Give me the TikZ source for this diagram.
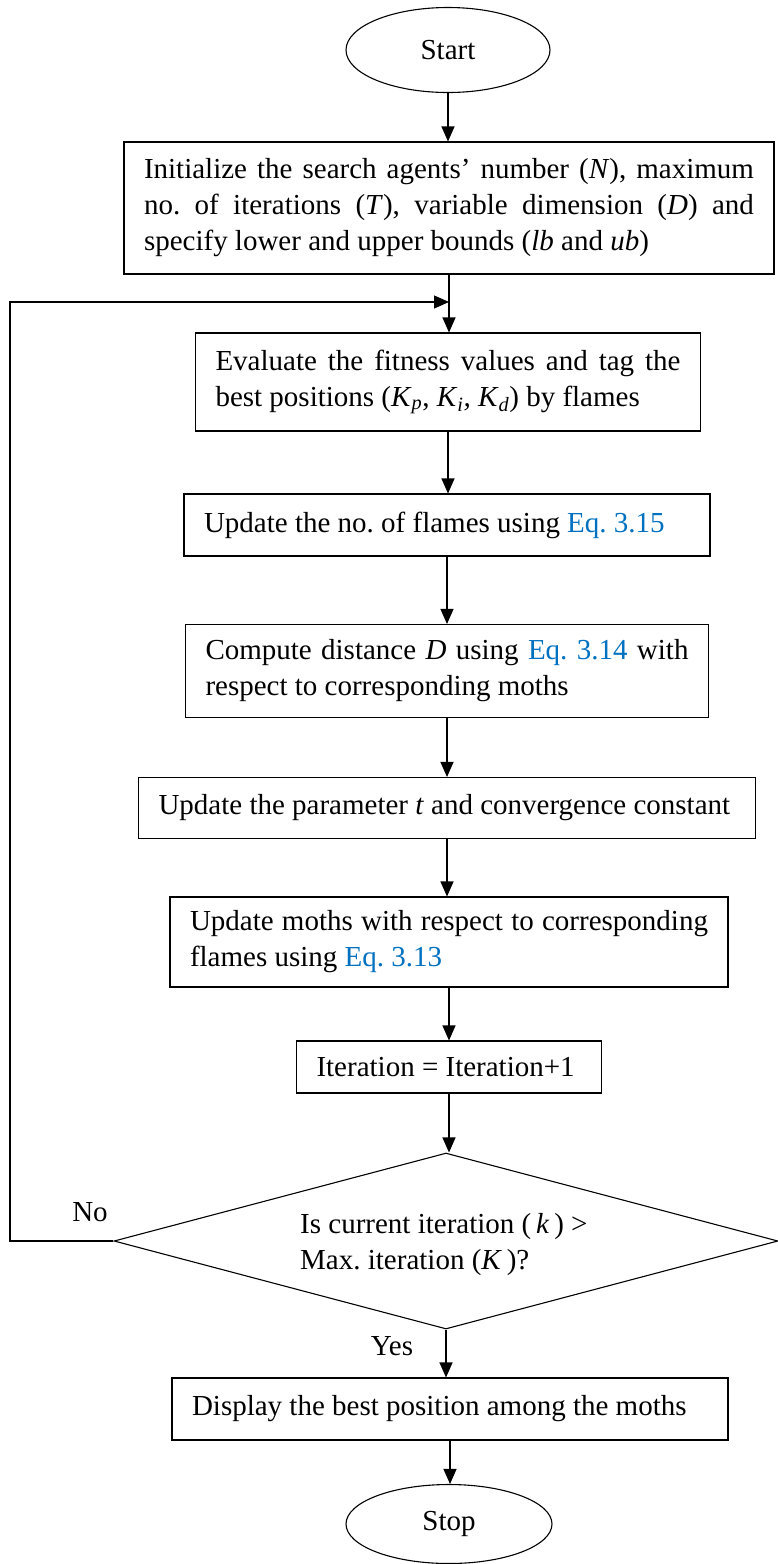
\documentclass[tikz,border=0pt]{standalone}
\usepackage{fontspec}
\setmainfont{Liberation Serif}
\usetikzlibrary{shapes.geometric,arrows.meta}
\definecolor{eqblue}{RGB}{0,112,192}
\newcommand{\eqlink}[1]{\textcolor{eqblue}{#1}}
\newcommand{\jline}[2]{\makebox[#1][s]{#2}}

\begin{document}
\begin{tikzpicture}[x=1pt,y=-1pt,
  every node/.style={font=\fontsize{29}{36}\selectfont\frenchspacing,
    execute at begin node={\spaceskip=0pt\xspaceskip=0pt}},
  stepbox/.style={draw, line width=1.1pt, rectangle, inner xsep=20pt, inner ysep=0pt, align=left},
  term/.style={draw, line width=1.1pt, ellipse, inner sep=0pt},
  decision/.style={draw, line width=1.1pt, diamond, inner sep=0pt},
  flow/.style={line width=1.1pt, -{Triangle[length=15pt,width=13pt]}},
  lbl/.style={inner sep=0pt}]

\useasboundingbox (0,0) rectangle (778,1564);

% terminals
\node[term, minimum width=204pt, minimum height=85pt] (start) at (448,50) {Start};
\node[term, minimum width=206pt, minimum height=79pt] (stop) at (449,1524) {Stop};

% process steps
\node[stepbox, text width=610pt, minimum height=132pt] (init) at (449,208)
  {\jline{610pt}{Initialize the search agents’ number (\textit{N}), maximum}\\
   \jline{610pt}{no. of iterations (\textit{T}), variable dimension (\textit{D}) and}\\
   \mbox{specify lower and upper bounds (\textit{lb} and \textit{ub})}};

\node[stepbox, text width=465pt, minimum height=98pt] (eval) at (448,382)
  {\jline{465pt}{Evaluate the fitness values and tag the}\\
   \mbox{best positions (\textit{K}\textsubscript{\textit{p}}, \textit{K}\textsubscript{\textit{i}}\textit{,} \textit{K}\textsubscript{\textit{d}}) by flames}};

\node[stepbox, text width=486pt, minimum height=62pt] (nflame) at (447,525)
  {\mbox{Update the no. of flames using \eqlink{Eq. 3.15}}};

\node[stepbox, text width=483pt, minimum height=93pt] (dist) at (447,671)
  {\jline{483pt}{Compute distance \textit{D} using \eqlink{Eq. 3.14} with}\\
   \mbox{respect to corresponding moths}};

\node[stepbox, text width=577pt, minimum height=61pt] (param) at (447,808)
  {\mbox{Update the parameter \textit{t} and convergence constant}};

\node[stepbox, text width=518pt, minimum height=90pt] (moths) at (449,942)
  {\jline{518pt}{Update moths with respect to corresponding}\\
   \mbox{flames using \eqlink{Eq. 3.13}}};

\node[stepbox, text width=265pt, minimum height=52pt] (iter) at (449,1067)
  {\mbox{Iteration = Iteration+1}};

% termination test
\node[decision, minimum width=664pt, minimum height=176pt] (test) at (446,1241) {};
\node[lbl, anchor=west, align=left] (testtxt) at (300,1245)
  {Is current iteration (\,\textit{k}\,) >\\Max. iteration (\textit{K}\,)?};

\node[stepbox, text width=516pt, minimum height=62pt] (best) at (450,1409)
  {\mbox{Display the best position among the moths}};

% branch labels
\node[lbl] (no) at (90,1212) {No};
\node[lbl] (yes) at (392,1346) {Yes};

% main flow
\draw[flow] (start.south) -- (start.south |- init.north);
\draw[flow] (init.south) -- (init.south |- eval.north);
\draw[flow] (eval.south) -- (eval.south |- nflame.north);
\draw[flow] (nflame.south) -- (nflame.south |- dist.north);
\draw[flow] (dist.south) -- (dist.south |- param.north);
\draw[flow] (param.south) -- (param.south |- moths.north);
\draw[flow] (moths.south) -- (moths.south |- iter.north);
\draw[flow] (iter.south) -- (iter.south |- test.north);
\draw[flow] (test.south) -- (test.south |- best.north);
\draw[flow] (best.south) -- (best.south |- stop.north);

% loop back on "No"
\coordinate (rail) at (10,302);
\coordinate (loop) at (449,302);
\draw[flow] (test.west) -| (rail) -- (loop);

\end{tikzpicture}
\end{document}
